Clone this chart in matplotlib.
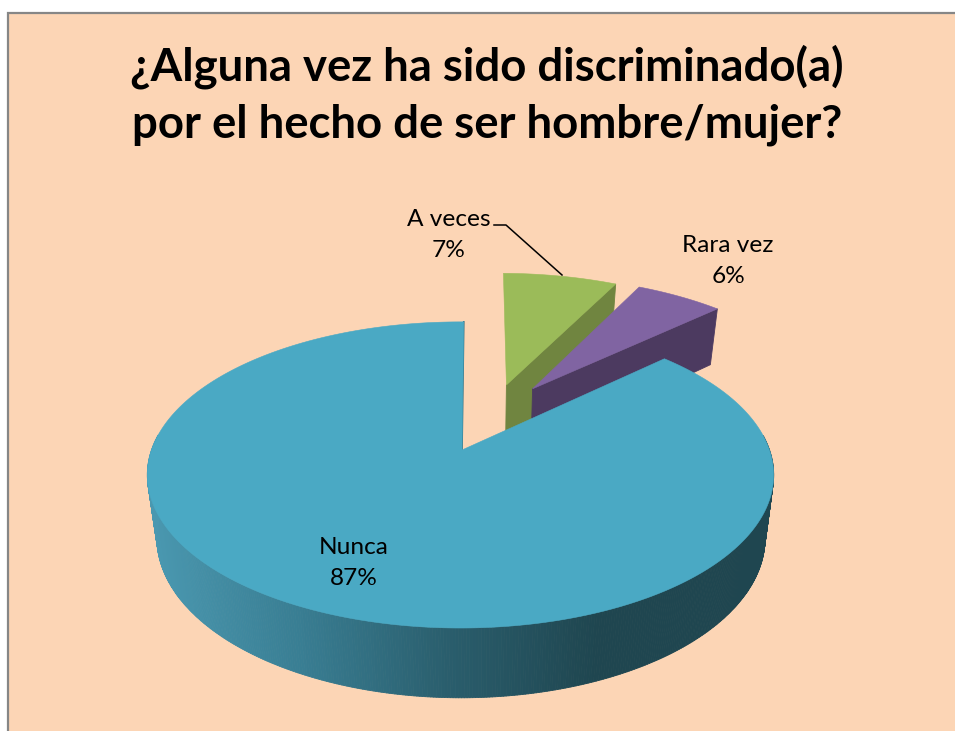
import matplotlib
matplotlib.use('Agg')
import matplotlib.pyplot as plt
import numpy as np
from matplotlib.collections import PolyCollection
from matplotlib.colors import LinearSegmentedColormap
from matplotlib.patches import Polygon, Rectangle

titulo = '¿Alguna vez ha sido discriminado(a)\npor el hecho de ser hombre/mujer?'
categorias = ['A veces', 'Rara vez', 'Nunca']
porcentajes = [7.3, 5.6, 87.1]

# estilos por rebanada (mismo orden que categorias)
color_tapa = ['#9BBB59', '#8064A2', '#4AA9C4']
color_lado = ['#708540', '#4C3A60', '#2F6F82']
explode_u = [0.16, 0.25, 0.0]
explode_v = [0.47, 0.44, 0.0]
pos_etiqueta = [(449, 235), (728, 261), (354, 563)]

fondo = '#FCD5B5'
marco = '#868686'

# perspectiva del disco: arriba y abajo del cilindro
K = 0.163
TAPA = dict(x0=460.5, y0=450, bx=309, by=149)
BASE = dict(x0=461, y0=512, bx=300, by=155.5)
vertice_nunca = (462, 450)

degradado = LinearSegmentedColormap.from_list('lado', ['#4A98B0', '#397E93', '#2A5E6D', '#1F4650'])


def proyectar(u, v, d):
    den = 1 + K * v
    return d['x0'] + d['bx'] * u / den, d['y0'] - d['by'] * v / den


def borde(a1, a2, du, dv, d, n=200):
    # a1, a2 en grados, sentido horario desde arriba
    t = np.radians(np.linspace(a1, a2, n))
    x, y = proyectar(np.sin(t) + du, np.cos(t) + dv, d)
    return np.column_stack([x, y])


fig = plt.figure(figsize=(9.55, 7.31), dpi=100, facecolor='white')
ax = fig.add_axes([0, 0, 1, 1])
ax.set_xlim(0, 955)
ax.set_ylim(731, 0)
ax.axis('off')

ax.add_patch(Rectangle((7.5, 12.5), 960, 730, facecolor=fondo, edgecolor=marco, lw=1.6, zorder=0))

angulos = np.cumsum([0] + porcentajes) * 3.6 + 0.7

for i in range(len(categorias)):
    a1, a2 = angulos[i], angulos[i + 1]
    du, dv = explode_u[i], explode_v[i]
    z = 1 + i

    if categorias[i] == 'Nunca':
        tapa = borde(a1, a2, du, dv, TAPA, 700)
        base = borde(a1, a2, du, dv, BASE, 700)
        giro = np.radians(np.linspace(a1, a2, 700))
        quads = []
        colores = []
        xmin = tapa[:, 0].min()
        xmax = tapa[:, 0].max()
        for j in range(len(tapa) - 1):
            if np.cos(giro[j]) > 0.1:
                continue
            quads.append([tapa[j], tapa[j + 1], base[j + 1], base[j]])
            f = (tapa[j, 0] - xmin) / (xmax - xmin)
            colores.append(degradado(min(f / 0.72, 1.0)))
        ax.add_collection(PolyCollection(quads, facecolors=colores, edgecolors=colores, lw=0.6, zorder=z))
        # corte izquierdo apenas visible
        ax.plot([tapa[-1, 0], vertice_nunca[0]], [tapa[-1, 1], vertice_nunca[1]], color=color_lado[i], lw=1.2, zorder=z)
        centro = vertice_nunca
    else:
        # cara de corte derecha
        centro = proyectar(du, dv, TAPA)
        centro_b = proyectar(du, dv, BASE)
        fin_t = borde(a2, a2, du, dv, TAPA, 1)[0]
        fin_b = borde(a2, a2, du, dv, BASE, 1)[0]
        ax.add_patch(Polygon([centro, fin_t, fin_b, centro_b], facecolor=color_lado[i],
                             edgecolor=color_lado[i], lw=0.6, zorder=z))
        tapa = borde(a1, a2, du, dv, TAPA)

    puntos = np.vstack([[centro], tapa])
    ax.add_patch(Polygon(puntos, facecolor=color_tapa[i], edgecolor=color_tapa[i], lw=0.4, zorder=z + 0.5))

# linea guia de "A veces"
ax.plot([494, 506, 562], [225, 225, 275], color='black', lw=1.1, zorder=6)

for i in range(len(categorias)):
    ax.text(pos_etiqueta[i][0], pos_etiqueta[i][1], '%s\n%.0f%%' % (categorias[i], porcentajes[i]),
            ha='center', va='center', fontsize=17.6, family='Lato', color='black', linespacing=1.6, zorder=7)

ax.text(487, 95, titulo, ha='center', va='center', fontsize=32.8, family='Lato', fontweight='bold',
        color='black', linespacing=1.44, zorder=7)

fig.savefig('out.png', dpi=100, facecolor='white')
